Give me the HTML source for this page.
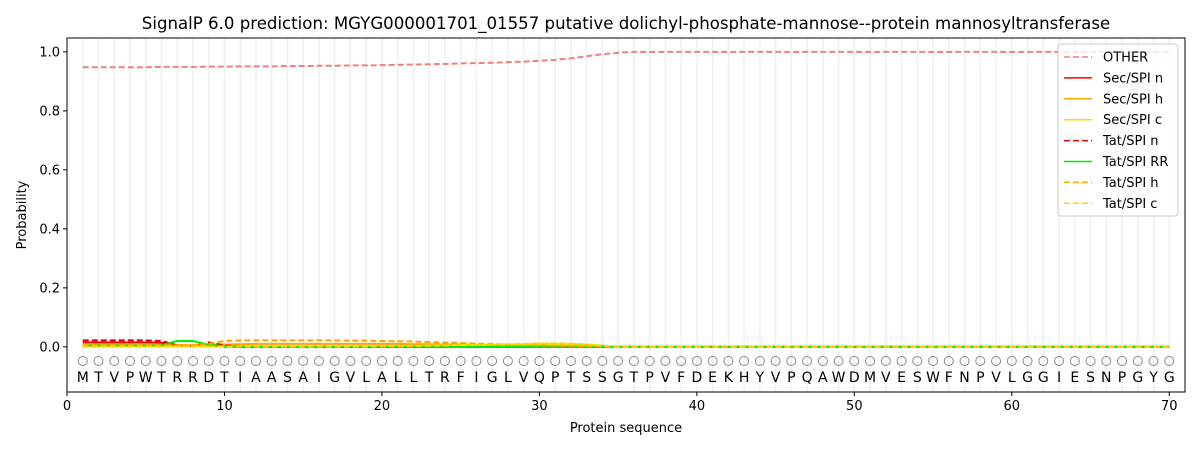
<!DOCTYPE html>
<html><head><meta charset="utf-8"><style>body{margin:0;background:#fff}svg{font-family:"DejaVu Sans","Liberation Sans",sans-serif}</style></head>
<body>
<svg id="chart" width="1200" height="450"></svg>
<script>
const seq = "MTVPWTRRDTIAASAIGVLALLTRFIGLVQPTSSGTPVFDEKHYVPQAWDMVESWFNPVLGGIESNPGYG";
const xTicks = [0,10,20,30,40,50,60,70];
const yTicks = [0.0,0.2,0.4,0.6,0.8,1.0];
const otherVals = [0.948,0.948,0.948,0.948,0.948,0.949,0.949,0.949,0.950,0.950,0.951,0.951,0.951,0.952,0.952,0.953,0.953,0.954,0.954,0.955,0.956,0.957,0.958,0.959,0.961,0.962,0.963,0.965,0.967,0.970,0.973,0.978,0.985,0.992,0.997,1,1,1,1,1,1,1,1,1,1,1,1,1,1,1,1,1,1,1,1,1,1,1,1,1,1,1,1,1,1,1,1,1,1,1];
const secN = [0.015,0.015,0.015,0.015,0.015,0.014,0.005,0.003,0.003,0.001];
const secH = [0.006,0.006,0.006,0.006,0.006,0.006,0.006,0.006,0.007,0.008,0.009,0.010,0.010,0.010,0.010,0.010,0.010,0.010,0.010,0.010,0.010,0.009,0.009,0.008,0.008,0.007,0.006,0.005,0.004,0.003,0.002,0.002,0.001,0.001,0];
const secC = [0.002,0.002,0.002,0.002,0.002,0.002,0.002,0.002,0.002,0.002,0.002,0.002,0.002,0.002,0.002,0.002,0.002,0.002,0.002,0.003,0.003,0.003,0.004,0.004,0.005,0.006,0.007,0.008,0.009,0.010,0.010,0.009,0.008,0.004,0];
const tatN = [0.022,0.022,0.022,0.022,0.022,0.020,0.005,0.003,0.015,0.005,0.001];
const tatRR = [0.005,0.005,0.005,0.005,0.005,0.005,0.020,0.020,0.007,0.002,0.001];
const tatH = [0.005,0.005,0.005,0.005,0.005,0.005,0.005,0.005,0.010,0.020,0.022,0.022,0.022,0.022,0.022,0.022,0.022,0.021,0.021,0.020,0.019,0.018,0.016,0.015,0.013,0.011,0.010,0.008,0.006,0.005,0.004,0.003,0.002,0.001,0];
const tatC = [0.001,0.001,0.001,0.001,0.001,0.001,0.001,0.001,0.001,0.001,0.001,0.001,0.001,0.001,0.001,0.001,0.001,0.001,0.001,0.002,0.002,0.003,0.004,0.005,0.006,0.007,0.008,0.009,0.010,0.012,0.012,0.011,0.008,0.004,0];
const seriesNames = ["OTHER","Sec/SPI n","Sec/SPI h","Sec/SPI c","Tat/SPI n","Tat/SPI RR","Tat/SPI h","Tat/SPI c"];
const seriesData = [otherVals,secN,secH,secC,tatN,tatRR,tatH,tatC];
const colors = ["#f08080","#ff0000","#ffa500","#ffd700","#dd0000","#00ee00","#ffa500","#ffd700"];
const dashed = [true,false,false,false,true,false,true,true];

const L=67,R=1185,T=38,B=392;
const xMin=0,xMax=71.0,yMin=-0.153,yMax=1.047;
const X=v=>L+(v-xMin)/(xMax-xMin)*(R-L);
const Y=v=>B-(v-yMin)/(yMax-yMin)*(B-T);
const svg=document.getElementById('chart');
const NS="http://www.w3.org/2000/svg";
function mk(tag,attrs,parent){const e=document.createElementNS(NS,tag);for(const k in attrs)e.setAttribute(k,attrs[k]);(parent||svg).appendChild(e);return e;}

for(let i=1;i<=seq.length;i++){
  const g=mk('line',{x1:X(i),x2:X(i),y1:T,y2:B,stroke:'#f0f0f0','stroke-width':1.5});
  
  
}
seriesData.forEach((d,si)=>{
  const pts=d.map((v,i)=>X(i+1)+','+Y(v));
  for(let i=d.length+1;i<=seq.length;i++)pts.push(X(i)+','+Y(0));
  const p=mk('polyline',{points:pts.join(' '),fill:'none',stroke:colors[si],'stroke-width':2,'stroke-dasharray':dashed[si]?'6,3':'none'});
  
  
});
for(let i=0;i<seq.length;i++){
  const c=mk('circle',{cx:X(i+1),cy:361,r:4.5,fill:'none',stroke:'#888','stroke-width':1});
  
  
  const t=mk('text',{x:X(i+1),y:382,'text-anchor':'middle','font-size':14,fill:'#000'});
  t.textContent=seq[i];
  
  
}
const f=mk('rect',{x:L,y:T,width:R-L,height:B-T,fill:'none',stroke:'#000','stroke-width':1});


xTicks.forEach(v=>{
  mk('line',{x1:X(v),x2:X(v),y1:B,y2:B+4,stroke:'#000'});
  const t=mk('text',{x:X(v),y:B+18,'text-anchor':'middle','font-size':13});
  t.textContent=v;
  
  
});
yTicks.forEach(v=>{
  mk('line',{x1:L-4,x2:L,y1:Y(v),y2:Y(v),stroke:'#000'});
  const t=mk('text',{x:L-7,y:Y(v)+4.5,'text-anchor':'end','font-size':13});
  t.textContent=v.toFixed(1);
  
  
});
let t=mk('text',{x:626,y:432,'text-anchor':'middle','font-size':13});t.textContent='Protein sequence';


t=mk('text',{x:26,y:215,'text-anchor':'middle','font-size':13,transform:'rotate(-90 26 215)'});t.textContent='Probability';


t=mk('text',{x:626,y:29,'text-anchor':'middle','font-size':16.6});t.textContent='SignalP 6.0 prediction: MGYG000001701_01557 putative dolichyl-phosphate-mannose--protein mannosyltransferase';


const lg=mk('rect',{x:1058,y:44,width:120,height:172,rx:3,fill:'#fff','fill-opacity':0.8,stroke:'#ccc'});


seriesNames.forEach((n,i)=>{
  const y=57+i*20.9;
  mk('line',{x1:1064,x2:1092,y1:y,y2:y,stroke:colors[i],'stroke-width':1.5,'stroke-dasharray':dashed[i]?'6,3':'none'});
  const tt=mk('text',{x:1103,y:y+4.5,'font-size':13});tt.textContent=n;
  
  
});
</script>
</body></html>
